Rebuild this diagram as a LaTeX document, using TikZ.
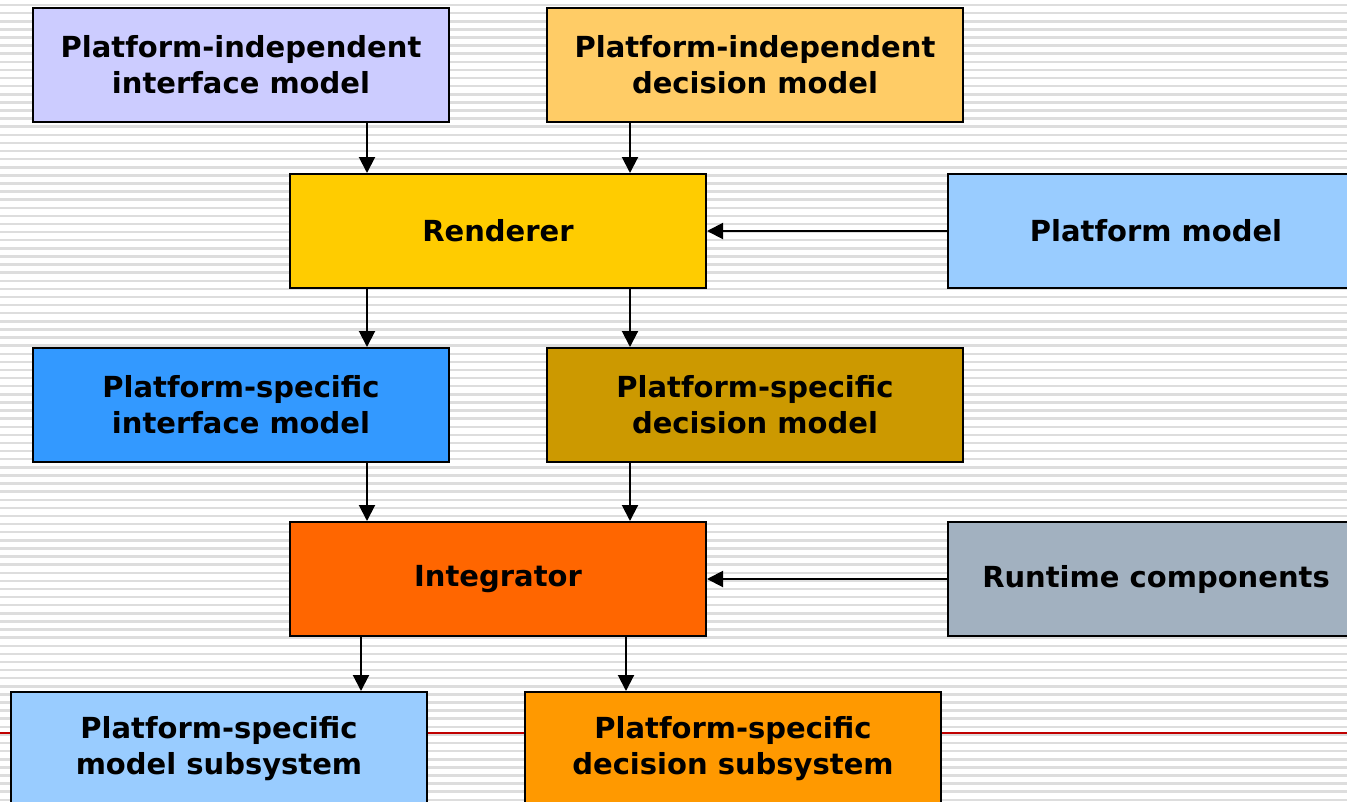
\documentclass[tikz,border=0pt]{standalone}
\usepackage{fontspec}
\setmainfont{DejaVu Sans}
\usetikzlibrary{arrows.meta}

\definecolor{cPIM}{HTML}{CCCCFF}
\definecolor{cPDM}{HTML}{FFCC66}
\definecolor{cRend}{HTML}{FFCC00}
\definecolor{cPlat}{HTML}{99CCFF}
\definecolor{cPSIM}{HTML}{3399FF}
\definecolor{cPSDM}{HTML}{CC9900}
\definecolor{cInteg}{HTML}{FF6600}
\definecolor{cRT}{HTML}{A2B1C0}
\definecolor{cPSMS}{HTML}{99CCFF}
\definecolor{cPSDS}{HTML}{FF9900}
\definecolor{stripe}{HTML}{DDDDDD}
\definecolor{rule}{HTML}{C00000}

\tikzset{
  block/.style={draw=black, line width=2pt, minimum width=416pt, minimum height=114pt,
    inner sep=0pt, align=center, font=\fontsize{29}{36}\selectfont\bfseries},
  arr/.style={line width=2pt, -{Triangle[width=16pt,length=16pt]}},
}

\begin{document}
\begin{tikzpicture}[x=1pt,y=-1pt]
  \useasboundingbox (0,0) rectangle (1347,801);
  % striped backdrop
  \fill[white] (0,0) rectangle (1347,801);
  \foreach \k in {0,...,99} {
    \fill[stripe] (0,{3.8+8.11*\k}) rectangle (1347,{6.3+8.11*\k});
  }
  % horizontal rule behind the bottom row
  \draw[rule, line width=1.2pt] (0,733) -- (1347,733);

  % boxes
  \node[block, fill=cPIM]   (pim)   at (241,65)   {Platform-independent\\interface model};
  \node[block, fill=cPDM]   (pdm)   at (755,65)   {Platform-independent\\decision model};
  \node[block, fill=cRend]  (rend)  at (498,231)  {Renderer};
  \node[block, fill=cPlat]  (plat)  at (1156,231) {Platform model};
  \node[block, fill=cPSIM]  (psim)  at (241,405)  {Platform-specific\\interface model};
  \node[block, fill=cPSDM]  (psdm)  at (755,405)  {Platform-specific\\decision model};
  \node[block, fill=cInteg] (integ) at (498,579)  {Integrator};
  \node[block, fill=cRT]    (rt)    at (1156,579) {Runtime components};
  \node[block, fill=cPSMS]  (psms)  at (219,749)  {Platform-specific\\model subsystem};
  \node[block, fill=cPSDS]  (psds)  at (733,749)  {Platform-specific\\decision subsystem};

  % columns used by the vertical connectors
  \coordinate (colA) at (367,0);
  \coordinate (colB) at (630,0);
  \coordinate (colC) at (361,0);
  \coordinate (colD) at (626,0);

  % connectors
  \draw[arr] (pim.south -| colA) -- (rend.north -| colA);
  \draw[arr] (pdm.south -| colB) -- (rend.north -| colB);
  \draw[arr] (plat.west) -- (rend.east);
  \draw[arr] (rend.south -| colA) -- (psim.north -| colA);
  \draw[arr] (rend.south -| colB) -- (psdm.north -| colB);
  \draw[arr] (psim.south -| colA) -- (integ.north -| colA);
  \draw[arr] (psdm.south -| colB) -- (integ.north -| colB);
  \draw[arr] (rt.west) -- (integ.east);
  \draw[arr] (integ.south -| colC) -- (psms.north -| colC);
  \draw[arr] (integ.south -| colD) -- (psds.north -| colD);
\end{tikzpicture}
\end{document}
